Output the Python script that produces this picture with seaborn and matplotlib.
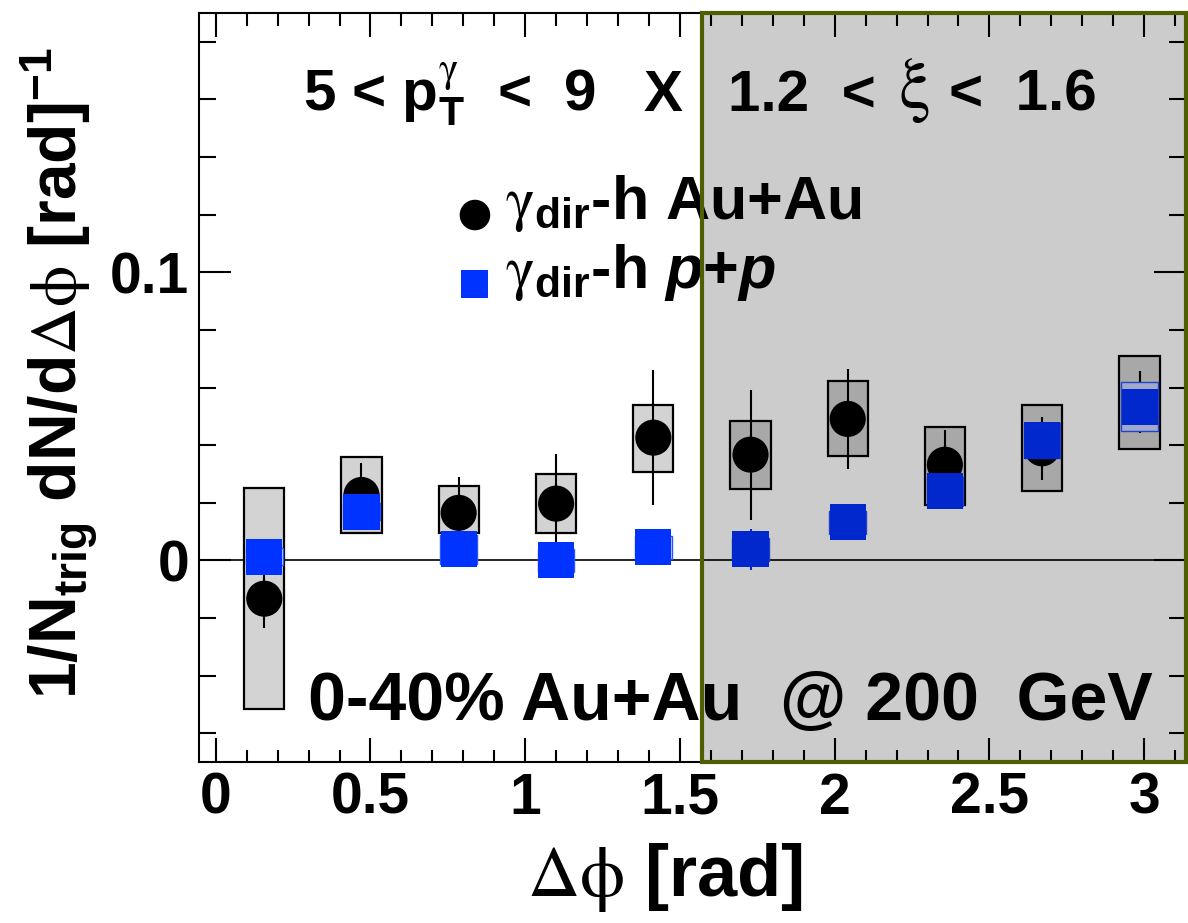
import numpy as np
import pandas as pd
import seaborn as sns
import matplotlib.pyplot as plt
from matplotlib.ticker import MultipleLocator, FormatStrFormatter

# ---------------- data ----------------
dphi = [0.157, 0.471, 0.785, 1.100, 1.414, 1.728, 2.042, 2.356, 2.670, 2.985]

auau = [-0.0133, 0.0227, 0.0165, 0.0197, 0.0426, 0.0367, 0.0491, 0.0332, 0.0389, 0.0550]
auau_stat = [0.0102, 0.0112, 0.0125, 0.0171, 0.0234, 0.0226, 0.0174, 0.0122, 0.0110, 0.0107]
auau_sys_lo = [0.0384, 0.0131, 0.0069, 0.0101, 0.0120, 0.0118, 0.0127, 0.0140, 0.0149, 0.0163]
auau_sys_hi = [0.0383, 0.0131, 0.0093, 0.0104, 0.0115, 0.0116, 0.0131, 0.0130, 0.0152, 0.0161]

pp = [0.0013, 0.0169, 0.0038, 0.0000, 0.0045, 0.0038, 0.0133, 0.0240, 0.0416, 0.0533]
pp_stat = [0.0040, 0.0040, 0.0040, 0.0040, 0.0040, 0.0070, 0.0040, 0.0040, 0.0050, 0.0060]
pp_sys = [0.0030, 0.0030, 0.0050, 0.0040, 0.0040, 0.0040, 0.0040, 0.0050, 0.0060, 0.0085]

xticks = [0, 0.5, 1, 1.5, 2, 2.5, 3]
yticks = [0, 0.1]

df = pd.DataFrame({"dphi": dphi, "auau": auau, "auau_stat": auau_stat,
                   "auau_lo": auau_sys_lo, "auau_hi": auau_sys_hi,
                   "pp": pp, "pp_stat": pp_stat, "pp_sys": pp_sys})

# ---------------- style ----------------
sns.set_theme(style="ticks")
plt.rcParams.update({
    "font.family": ["Liberation Sans", "DejaVu Sans"],
    "font.weight": "bold",
    "axes.labelweight": "bold",
    "text.color": "black",
    "axes.labelcolor": "black",
    "xtick.color": "black",
    "ytick.color": "black",
    "mathtext.fontset": "custom",
    "mathtext.rm": "Liberation Sans:bold",
    "mathtext.it": "Liberation Sans:bold:italic",
    "mathtext.bf": "Liberation Sans:bold",
    "mathtext.sf": "STIXGeneral:weight=normal",
    "axes.linewidth": 1.5,
    "axes.edgecolor": "black",
})

BLUE = "#0033ff"
GREEN = "#4d5f00"

fig = plt.figure(figsize=(11.88, 9.23), dpi=100)
ax = fig.add_axes([0.1675, 0.1744, 0.8308, 0.8115])
ax.set_facecolor("white")

ax.axhline(0, color="black", lw=1.2, zorder=1)

# Au+Au systematic boxes, stat errors, markers
ax.bar(df["dphi"], df["auau_lo"] + df["auau_hi"], bottom=df["auau"] - df["auau_lo"],
       width=0.13, color="#d3d3d3", edgecolor="black", linewidth=1.6, zorder=2)
ax.errorbar(df["dphi"], df["auau"], yerr=df["auau_stat"], fmt="none",
            ecolor="black", elinewidth=1.5, zorder=3)
sns.scatterplot(data=df, x="dphi", y="auau", marker="o", s=26 ** 2, color="black",
                edgecolor="none", zorder=4, ax=ax, legend=False)

# p+p
ax.bar(df["dphi"], 2 * df["pp_sys"], bottom=df["pp"] - df["pp_sys"],
       width=0.118, color="#c8d4ff", edgecolor="#2a55ff", linewidth=1.0, zorder=5)
ax.errorbar(df["dphi"], df["pp"], yerr=df["pp_stat"], fmt="none",
            ecolor=BLUE, elinewidth=1.5, zorder=5)
sns.scatterplot(data=df, x="dphi", y="pp", marker="s", s=26 ** 2, color=BLUE,
                edgecolor="none", zorder=6, ax=ax, legend=False)

# axes
ax.set_xlim(-0.054, 3.135)
ax.set_ylim(-0.070, 0.19)
ax.set_xticks(xticks)
ax.set_yticks(yticks)
ax.xaxis.set_major_formatter(FormatStrFormatter("%g"))
ax.yaxis.set_major_formatter(FormatStrFormatter("%g"))
ax.xaxis.set_minor_locator(MultipleLocator(0.1))
ax.yaxis.set_minor_locator(MultipleLocator(0.02))
ax.tick_params(axis="x", which="major", direction="in", length=17, width=1.5,
               top=True, bottom=True, labelsize=41, pad=7)
ax.tick_params(axis="x", which="minor", direction="in", length=9, width=1.5,
               top=True, bottom=True)
ax.tick_params(axis="y", which="major", direction="in", length=23, width=1.5,
               left=True, right=True, labelsize=41, pad=7)
ax.tick_params(axis="y", which="minor", direction="in", length=12, width=1.5,
               left=True, right=True)

ax.set_xlabel(r"$\mathsf{\Delta\phi}$ [rad]", fontsize=52)
ax.xaxis.set_label_coords(0.472, -0.105)
ax.set_ylabel(r"1/N$_{\mathrm{trig}}$ dN/d$\mathsf{\Delta\phi}$ [rad]$^{\mathrm{-1}}$", fontsize=47.5)
ax.yaxis.set_label_coords(-0.10, 0.52)

# shaded region
ax.axvspan(np.pi / 2, 3.135, color="black", alpha=0.2, lw=0, zorder=8)
ax.axvspan(np.pi / 2, 3.135, fill=False, edgecolor=GREEN, lw=3, zorder=10, clip_on=False)

# annotations
ax.text(0.282, 0.156, r"5 < $\mathrm{p}_{\mathrm{T}}^{\mathsf{\gamma}}$  <  9", fontsize=42,
        ha="left", va="baseline", zorder=9)
ax.text(1.381, 0.156, "X", fontsize=42, ha="left", va="baseline", zorder=9)
ax.text(1.655, 0.156, "1.2  <", fontsize=42, ha="left", va="baseline", zorder=9)
ax.text(2.205, 0.1575, r"$\mathsf{\xi}$", fontsize=52, ha="left", va="baseline", zorder=9)
ax.text(2.368, 0.156, "<  1.6", fontsize=42, ha="left", va="baseline", zorder=9)
ax.text(0.298, -0.0555, "0-40% Au+Au  @ 200  GeV", fontsize=49, ha="left",
        va="baseline", zorder=9)

# legend (manual key)
ax.scatter([0.2796], [0.7303], transform=ax.transAxes, marker="o", s=22 ** 2,
           color="black", edgecolor="none", zorder=9, clip_on=False)
ax.scatter([0.2796], [0.6382], transform=ax.transAxes, marker="s", s=19.5 ** 2,
           color=BLUE, edgecolor="none", zorder=9, clip_on=False)
ax.text(0.31, 0.725, r"$\mathsf{\gamma}_{\mathrm{dir}}$-h Au+Au", fontsize=44,
        transform=ax.transAxes, ha="left", va="baseline", zorder=9)
ax.text(0.31, 0.633, r"$\mathsf{\gamma}_{\mathrm{dir}}$-h $\mathit{p}$+$\mathit{p}$",
        fontsize=44, transform=ax.transAxes, ha="left", va="baseline", zorder=9)

fig.savefig("out.png", dpi=100)
